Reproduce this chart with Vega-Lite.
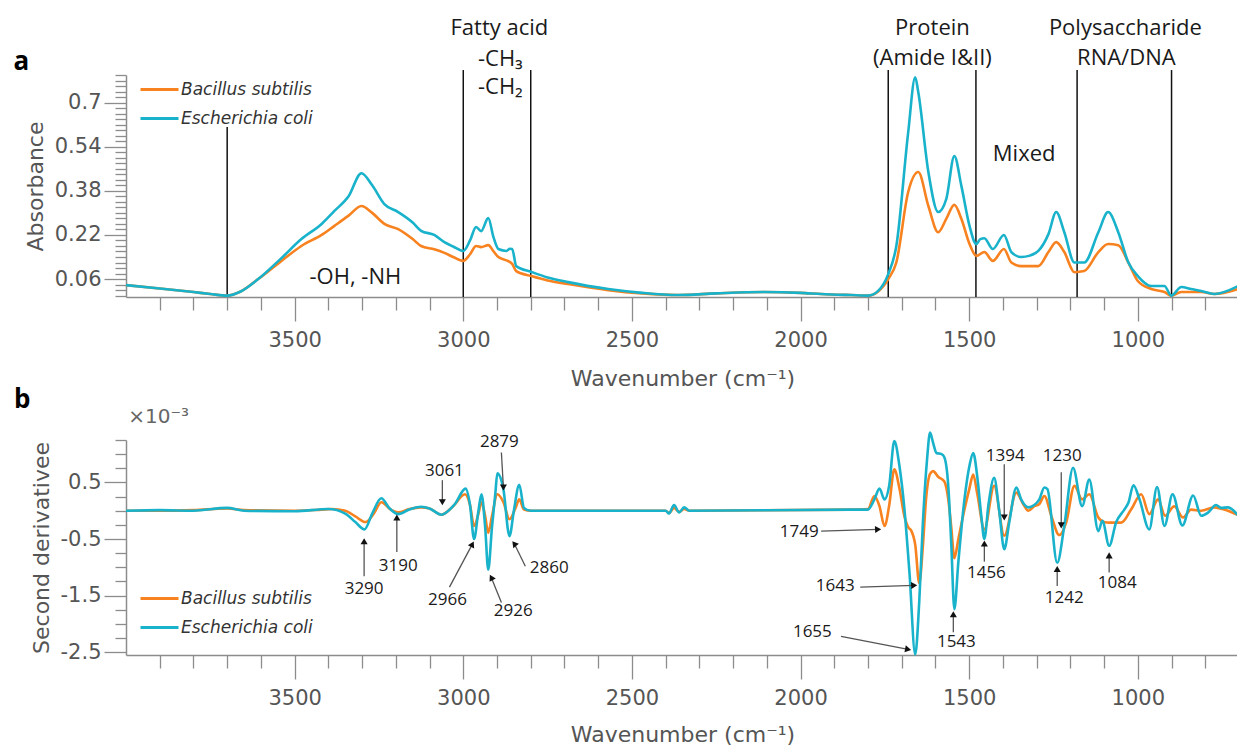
{
  "$schema": "https://vega.github.io/schema/vega-lite/v6.json",
  "background": "white",
  "padding": {"left": 13, "top": 16, "right": 0, "bottom": 0},
  "spacing": 143,
  "bounds": "flush",
  "resolve": {"scale": {"color": "independent"}, "legend": {"color": "independent"}},
  "config": {
    "view": {"stroke": null},
    "axis": {"grid": false, "domainColor": "#8c8c8c", "domainWidth": 1.5, "tickColor": "#8c8c8c", "tickWidth": 1.3, "labelFont": "DejaVu Sans", "labelFontSize": 21, "labelColor": "#555555", "titleFont": "DejaVu Sans", "titleFontSize": 22, "titleFontWeight": "normal", "titleColor": "#555555", "labelOverlap": false, "labelFlush": false, "labelBound": false}
  },
  "datasets": {
    "lines_a": [
      {"x": 3700, "y": -0.005, "y2": 0.611},
      {"x": 3000, "y": -0.005, "y2": 0.818},
      {"x": 2800, "y": -0.005, "y2": 0.818},
      {"x": 1740, "y": -0.005, "y2": 0.818},
      {"x": 1480, "y": -0.005, "y2": 0.818},
      {"x": 1180, "y": -0.005, "y2": 0.818},
      {"x": 900, "y": -0.005, "y2": 0.818}
    ],
    "ann_a": [
      {"t": "Fatty acid", "x": 2893, "y": 0.972},
      {"t": "-CH₃", "x": 2890, "y": 0.857},
      {"t": "-CH₂", "x": 2890, "y": 0.756},
      {"t": "Protein", "x": 1609, "y": 0.972},
      {"t": "(Amide I&II)", "x": 1609, "y": 0.86},
      {"t": "Polysaccharide", "x": 1037, "y": 0.972},
      {"t": "RNA/DNA", "x": 1034, "y": 0.86},
      {"t": "Mixed", "x": 1337, "y": 0.513},
      {"t": "-OH, -NH", "x": 3320, "y": 0.067}
    ],
    "spec_a": [
      {"s": "Bacillus subtilis", "x": 4000, "y": 0.038},
      {"s": "Bacillus subtilis", "x": 3900, "y": 0.026},
      {"s": "Bacillus subtilis", "x": 3800, "y": 0.013},
      {"s": "Bacillus subtilis", "x": 3750, "y": 0.006},
      {"s": "Bacillus subtilis", "x": 3700, "y": 0.0},
      {"s": "Bacillus subtilis", "x": 3660, "y": 0.015},
      {"s": "Bacillus subtilis", "x": 3608, "y": 0.06},
      {"s": "Bacillus subtilis", "x": 3540, "y": 0.125},
      {"s": "Bacillus subtilis", "x": 3480, "y": 0.18},
      {"s": "Bacillus subtilis", "x": 3420, "y": 0.22},
      {"s": "Bacillus subtilis", "x": 3382, "y": 0.253},
      {"s": "Bacillus subtilis", "x": 3340, "y": 0.29},
      {"s": "Bacillus subtilis", "x": 3302, "y": 0.325},
      {"s": "Bacillus subtilis", "x": 3270, "y": 0.3},
      {"s": "Bacillus subtilis", "x": 3234, "y": 0.26},
      {"s": "Bacillus subtilis", "x": 3193, "y": 0.241},
      {"s": "Bacillus subtilis", "x": 3150, "y": 0.205},
      {"s": "Bacillus subtilis", "x": 3125, "y": 0.18},
      {"s": "Bacillus subtilis", "x": 3086, "y": 0.168},
      {"s": "Bacillus subtilis", "x": 3056, "y": 0.155},
      {"s": "Bacillus subtilis", "x": 3030, "y": 0.14},
      {"s": "Bacillus subtilis", "x": 3000, "y": 0.126},
      {"s": "Bacillus subtilis", "x": 2980, "y": 0.15},
      {"s": "Bacillus subtilis", "x": 2962, "y": 0.18},
      {"s": "Bacillus subtilis", "x": 2947, "y": 0.176},
      {"s": "Bacillus subtilis", "x": 2926, "y": 0.183},
      {"s": "Bacillus subtilis", "x": 2910, "y": 0.16},
      {"s": "Bacillus subtilis", "x": 2896, "y": 0.14},
      {"s": "Bacillus subtilis", "x": 2872, "y": 0.128},
      {"s": "Bacillus subtilis", "x": 2855, "y": 0.115},
      {"s": "Bacillus subtilis", "x": 2843, "y": 0.089},
      {"s": "Bacillus subtilis", "x": 2798, "y": 0.071},
      {"s": "Bacillus subtilis", "x": 2750, "y": 0.055},
      {"s": "Bacillus subtilis", "x": 2689, "y": 0.042},
      {"s": "Bacillus subtilis", "x": 2570, "y": 0.02},
      {"s": "Bacillus subtilis", "x": 2470, "y": 0.008},
      {"s": "Bacillus subtilis", "x": 2363, "y": 0.002},
      {"s": "Bacillus subtilis", "x": 2250, "y": 0.008},
      {"s": "Bacillus subtilis", "x": 2108, "y": 0.013},
      {"s": "Bacillus subtilis", "x": 2000, "y": 0.01},
      {"s": "Bacillus subtilis", "x": 1939, "y": 0.006},
      {"s": "Bacillus subtilis", "x": 1850, "y": 0.002},
      {"s": "Bacillus subtilis", "x": 1799, "y": 0.0},
      {"s": "Bacillus subtilis", "x": 1770, "y": 0.015},
      {"s": "Bacillus subtilis", "x": 1740, "y": 0.06},
      {"s": "Bacillus subtilis", "x": 1716, "y": 0.12},
      {"s": "Bacillus subtilis", "x": 1681, "y": 0.375},
      {"s": "Bacillus subtilis", "x": 1651, "y": 0.448},
      {"s": "Bacillus subtilis", "x": 1621, "y": 0.325},
      {"s": "Bacillus subtilis", "x": 1592, "y": 0.23},
      {"s": "Bacillus subtilis", "x": 1568, "y": 0.278},
      {"s": "Bacillus subtilis", "x": 1544, "y": 0.329},
      {"s": "Bacillus subtilis", "x": 1523, "y": 0.278},
      {"s": "Bacillus subtilis", "x": 1499, "y": 0.187},
      {"s": "Bacillus subtilis", "x": 1479, "y": 0.144},
      {"s": "Bacillus subtilis", "x": 1455, "y": 0.158},
      {"s": "Bacillus subtilis", "x": 1430, "y": 0.126},
      {"s": "Bacillus subtilis", "x": 1397, "y": 0.169},
      {"s": "Bacillus subtilis", "x": 1375, "y": 0.12},
      {"s": "Bacillus subtilis", "x": 1346, "y": 0.107},
      {"s": "Bacillus subtilis", "x": 1295, "y": 0.107},
      {"s": "Bacillus subtilis", "x": 1265, "y": 0.158},
      {"s": "Bacillus subtilis", "x": 1242, "y": 0.194},
      {"s": "Bacillus subtilis", "x": 1218, "y": 0.158},
      {"s": "Bacillus subtilis", "x": 1188, "y": 0.085},
      {"s": "Bacillus subtilis", "x": 1159, "y": 0.089},
      {"s": "Bacillus subtilis", "x": 1117, "y": 0.158},
      {"s": "Bacillus subtilis", "x": 1088, "y": 0.187},
      {"s": "Bacillus subtilis", "x": 1058, "y": 0.183},
      {"s": "Bacillus subtilis", "x": 1028, "y": 0.12},
      {"s": "Bacillus subtilis", "x": 1000, "y": 0.053},
      {"s": "Bacillus subtilis", "x": 960, "y": 0.024},
      {"s": "Bacillus subtilis", "x": 921, "y": 0.013},
      {"s": "Bacillus subtilis", "x": 901, "y": 0.0},
      {"s": "Bacillus subtilis", "x": 871, "y": 0.013},
      {"s": "Bacillus subtilis", "x": 842, "y": 0.013},
      {"s": "Bacillus subtilis", "x": 812, "y": 0.013},
      {"s": "Bacillus subtilis", "x": 773, "y": 0.006},
      {"s": "Bacillus subtilis", "x": 702, "y": 0.024},
      {"s": "Escherichia coli", "x": 4000, "y": 0.038},
      {"s": "Escherichia coli", "x": 3900, "y": 0.026},
      {"s": "Escherichia coli", "x": 3800, "y": 0.013},
      {"s": "Escherichia coli", "x": 3750, "y": 0.006},
      {"s": "Escherichia coli", "x": 3700, "y": 0.0},
      {"s": "Escherichia coli", "x": 3660, "y": 0.015},
      {"s": "Escherichia coli", "x": 3608, "y": 0.06},
      {"s": "Escherichia coli", "x": 3540, "y": 0.135},
      {"s": "Escherichia coli", "x": 3480, "y": 0.205},
      {"s": "Escherichia coli", "x": 3420, "y": 0.26},
      {"s": "Escherichia coli", "x": 3382, "y": 0.307},
      {"s": "Escherichia coli", "x": 3340, "y": 0.36},
      {"s": "Escherichia coli", "x": 3302, "y": 0.444},
      {"s": "Escherichia coli", "x": 3270, "y": 0.4},
      {"s": "Escherichia coli", "x": 3234, "y": 0.332},
      {"s": "Escherichia coli", "x": 3193, "y": 0.303},
      {"s": "Escherichia coli", "x": 3150, "y": 0.265},
      {"s": "Escherichia coli", "x": 3125, "y": 0.235},
      {"s": "Escherichia coli", "x": 3086, "y": 0.22},
      {"s": "Escherichia coli", "x": 3056, "y": 0.194},
      {"s": "Escherichia coli", "x": 3030, "y": 0.178},
      {"s": "Escherichia coli", "x": 3000, "y": 0.162},
      {"s": "Escherichia coli", "x": 2980, "y": 0.2},
      {"s": "Escherichia coli", "x": 2962, "y": 0.249},
      {"s": "Escherichia coli", "x": 2947, "y": 0.234},
      {"s": "Escherichia coli", "x": 2926, "y": 0.281},
      {"s": "Escherichia coli", "x": 2910, "y": 0.21},
      {"s": "Escherichia coli", "x": 2896, "y": 0.169},
      {"s": "Escherichia coli", "x": 2872, "y": 0.162},
      {"s": "Escherichia coli", "x": 2862, "y": 0.17},
      {"s": "Escherichia coli", "x": 2855, "y": 0.169},
      {"s": "Escherichia coli", "x": 2843, "y": 0.107},
      {"s": "Escherichia coli", "x": 2798, "y": 0.086},
      {"s": "Escherichia coli", "x": 2750, "y": 0.066},
      {"s": "Escherichia coli", "x": 2689, "y": 0.049},
      {"s": "Escherichia coli", "x": 2570, "y": 0.024},
      {"s": "Escherichia coli", "x": 2470, "y": 0.01},
      {"s": "Escherichia coli", "x": 2363, "y": 0.002},
      {"s": "Escherichia coli", "x": 2250, "y": 0.008},
      {"s": "Escherichia coli", "x": 2108, "y": 0.013},
      {"s": "Escherichia coli", "x": 2000, "y": 0.01},
      {"s": "Escherichia coli", "x": 1939, "y": 0.006},
      {"s": "Escherichia coli", "x": 1850, "y": 0.002},
      {"s": "Escherichia coli", "x": 1799, "y": 0.0},
      {"s": "Escherichia coli", "x": 1770, "y": 0.017},
      {"s": "Escherichia coli", "x": 1740, "y": 0.078},
      {"s": "Escherichia coli", "x": 1716, "y": 0.18},
      {"s": "Escherichia coli", "x": 1681, "y": 0.59},
      {"s": "Escherichia coli", "x": 1660, "y": 0.792},
      {"s": "Escherichia coli", "x": 1651, "y": 0.738},
      {"s": "Escherichia coli", "x": 1621, "y": 0.448},
      {"s": "Escherichia coli", "x": 1592, "y": 0.303},
      {"s": "Escherichia coli", "x": 1568, "y": 0.35},
      {"s": "Escherichia coli", "x": 1544, "y": 0.506},
      {"s": "Escherichia coli", "x": 1523, "y": 0.397},
      {"s": "Escherichia coli", "x": 1499, "y": 0.253},
      {"s": "Escherichia coli", "x": 1479, "y": 0.187},
      {"s": "Escherichia coli", "x": 1467, "y": 0.205},
      {"s": "Escherichia coli", "x": 1455, "y": 0.208},
      {"s": "Escherichia coli", "x": 1430, "y": 0.169},
      {"s": "Escherichia coli", "x": 1397, "y": 0.22},
      {"s": "Escherichia coli", "x": 1375, "y": 0.158},
      {"s": "Escherichia coli", "x": 1346, "y": 0.14},
      {"s": "Escherichia coli", "x": 1320, "y": 0.145},
      {"s": "Escherichia coli", "x": 1295, "y": 0.162},
      {"s": "Escherichia coli", "x": 1265, "y": 0.223},
      {"s": "Escherichia coli", "x": 1242, "y": 0.303},
      {"s": "Escherichia coli", "x": 1218, "y": 0.23},
      {"s": "Escherichia coli", "x": 1188, "y": 0.12},
      {"s": "Escherichia coli", "x": 1159, "y": 0.12},
      {"s": "Escherichia coli", "x": 1117, "y": 0.23},
      {"s": "Escherichia coli", "x": 1088, "y": 0.303},
      {"s": "Escherichia coli", "x": 1058, "y": 0.23},
      {"s": "Escherichia coli", "x": 1028, "y": 0.12},
      {"s": "Escherichia coli", "x": 1000, "y": 0.071},
      {"s": "Escherichia coli", "x": 960, "y": 0.035},
      {"s": "Escherichia coli", "x": 921, "y": 0.035},
      {"s": "Escherichia coli", "x": 901, "y": 0.0},
      {"s": "Escherichia coli", "x": 871, "y": 0.031},
      {"s": "Escherichia coli", "x": 842, "y": 0.024},
      {"s": "Escherichia coli", "x": 812, "y": 0.017},
      {"s": "Escherichia coli", "x": 773, "y": 0.006},
      {"s": "Escherichia coli", "x": 702, "y": 0.035}
    ],
    "spec_b": [
      {"s": "Bacillus subtilis", "x": 4000, "y": 0},
      {"s": "Bacillus subtilis", "x": 3900, "y": 0},
      {"s": "Bacillus subtilis", "x": 3800, "y": 0.01},
      {"s": "Bacillus subtilis", "x": 3700, "y": 0.04},
      {"s": "Bacillus subtilis", "x": 3650, "y": 0.01},
      {"s": "Bacillus subtilis", "x": 3500, "y": 0},
      {"s": "Bacillus subtilis", "x": 3420, "y": 0.02},
      {"s": "Bacillus subtilis", "x": 3390, "y": 0.03},
      {"s": "Bacillus subtilis", "x": 3350, "y": 0},
      {"s": "Bacillus subtilis", "x": 3320, "y": -0.1},
      {"s": "Bacillus subtilis", "x": 3290, "y": -0.2},
      {"s": "Bacillus subtilis", "x": 3265, "y": -0.05},
      {"s": "Bacillus subtilis", "x": 3243, "y": 0.15},
      {"s": "Bacillus subtilis", "x": 3215, "y": 0.02},
      {"s": "Bacillus subtilis", "x": 3193, "y": -0.03},
      {"s": "Bacillus subtilis", "x": 3160, "y": 0.03},
      {"s": "Bacillus subtilis", "x": 3125, "y": 0.06},
      {"s": "Bacillus subtilis", "x": 3100, "y": 0.04},
      {"s": "Bacillus subtilis", "x": 3065, "y": -0.07},
      {"s": "Bacillus subtilis", "x": 3030, "y": 0.08},
      {"s": "Bacillus subtilis", "x": 2995, "y": 0.29},
      {"s": "Bacillus subtilis", "x": 2980, "y": 0.1},
      {"s": "Bacillus subtilis", "x": 2968, "y": -0.27},
      {"s": "Bacillus subtilis", "x": 2955, "y": -0.05},
      {"s": "Bacillus subtilis", "x": 2946, "y": 0.15},
      {"s": "Bacillus subtilis", "x": 2935, "y": -0.1},
      {"s": "Bacillus subtilis", "x": 2926, "y": -0.39},
      {"s": "Bacillus subtilis", "x": 2915, "y": -0.1},
      {"s": "Bacillus subtilis", "x": 2899, "y": 0.29},
      {"s": "Bacillus subtilis", "x": 2881, "y": 0.15},
      {"s": "Bacillus subtilis", "x": 2863, "y": -0.15},
      {"s": "Bacillus subtilis", "x": 2845, "y": 0.05},
      {"s": "Bacillus subtilis", "x": 2834, "y": 0.2},
      {"s": "Bacillus subtilis", "x": 2820, "y": 0.02},
      {"s": "Bacillus subtilis", "x": 2800, "y": 0},
      {"s": "Bacillus subtilis", "x": 2400, "y": 0},
      {"s": "Bacillus subtilis", "x": 2390, "y": -0.04},
      {"s": "Bacillus subtilis", "x": 2375, "y": 0.05},
      {"s": "Bacillus subtilis", "x": 2360, "y": -0.02},
      {"s": "Bacillus subtilis", "x": 2345, "y": 0.03},
      {"s": "Bacillus subtilis", "x": 2330, "y": 0},
      {"s": "Bacillus subtilis", "x": 1850, "y": 0.02},
      {"s": "Bacillus subtilis", "x": 1800, "y": 0.03},
      {"s": "Bacillus subtilis", "x": 1781, "y": 0.26},
      {"s": "Bacillus subtilis", "x": 1766, "y": 0.08},
      {"s": "Bacillus subtilis", "x": 1751, "y": -0.27},
      {"s": "Bacillus subtilis", "x": 1737, "y": 0.1},
      {"s": "Bacillus subtilis", "x": 1722, "y": 0.73},
      {"s": "Bacillus subtilis", "x": 1707, "y": 0.4},
      {"s": "Bacillus subtilis", "x": 1692, "y": -0.1},
      {"s": "Bacillus subtilis", "x": 1680, "y": -0.3},
      {"s": "Bacillus subtilis", "x": 1672, "y": -0.35},
      {"s": "Bacillus subtilis", "x": 1660, "y": -0.6},
      {"s": "Bacillus subtilis", "x": 1648, "y": -1.28},
      {"s": "Bacillus subtilis", "x": 1637, "y": -0.6},
      {"s": "Bacillus subtilis", "x": 1628, "y": 0.2},
      {"s": "Bacillus subtilis", "x": 1616, "y": 0.65},
      {"s": "Bacillus subtilis", "x": 1607, "y": 0.7},
      {"s": "Bacillus subtilis", "x": 1592, "y": 0.6},
      {"s": "Bacillus subtilis", "x": 1574, "y": 0.52},
      {"s": "Bacillus subtilis", "x": 1562, "y": 0.2},
      {"s": "Bacillus subtilis", "x": 1553, "y": -0.3},
      {"s": "Bacillus subtilis", "x": 1544, "y": -0.84},
      {"s": "Bacillus subtilis", "x": 1532, "y": -0.5},
      {"s": "Bacillus subtilis", "x": 1514, "y": 0.02},
      {"s": "Bacillus subtilis", "x": 1499, "y": 0.4},
      {"s": "Bacillus subtilis", "x": 1488, "y": 0.64},
      {"s": "Bacillus subtilis", "x": 1476, "y": 0.3},
      {"s": "Bacillus subtilis", "x": 1455, "y": -0.33},
      {"s": "Bacillus subtilis", "x": 1426, "y": 0.44},
      {"s": "Bacillus subtilis", "x": 1396, "y": -0.44},
      {"s": "Bacillus subtilis", "x": 1360, "y": 0.32},
      {"s": "Bacillus subtilis", "x": 1340, "y": 0.12},
      {"s": "Bacillus subtilis", "x": 1325, "y": 0},
      {"s": "Bacillus subtilis", "x": 1307, "y": 0.08},
      {"s": "Bacillus subtilis", "x": 1292, "y": 0.12},
      {"s": "Bacillus subtilis", "x": 1277, "y": 0.26},
      {"s": "Bacillus subtilis", "x": 1256, "y": -0.1},
      {"s": "Bacillus subtilis", "x": 1233, "y": -0.43},
      {"s": "Bacillus subtilis", "x": 1212, "y": -0.2},
      {"s": "Bacillus subtilis", "x": 1188, "y": 0.44},
      {"s": "Bacillus subtilis", "x": 1165, "y": 0.2},
      {"s": "Bacillus subtilis", "x": 1144, "y": 0.29},
      {"s": "Bacillus subtilis", "x": 1117, "y": -0.12},
      {"s": "Bacillus subtilis", "x": 1100, "y": -0.2},
      {"s": "Bacillus subtilis", "x": 1085, "y": -0.21},
      {"s": "Bacillus subtilis", "x": 1065, "y": -0.21},
      {"s": "Bacillus subtilis", "x": 1049, "y": -0.21},
      {"s": "Bacillus subtilis", "x": 1020, "y": 0.02},
      {"s": "Bacillus subtilis", "x": 990, "y": 0.29},
      {"s": "Bacillus subtilis", "x": 966, "y": -0.06},
      {"s": "Bacillus subtilis", "x": 940, "y": 0.2},
      {"s": "Bacillus subtilis", "x": 919, "y": -0.09},
      {"s": "Bacillus subtilis", "x": 892, "y": 0.08},
      {"s": "Bacillus subtilis", "x": 866, "y": -0.12},
      {"s": "Bacillus subtilis", "x": 842, "y": 0.02},
      {"s": "Bacillus subtilis", "x": 812, "y": 0},
      {"s": "Bacillus subtilis", "x": 773, "y": 0.06},
      {"s": "Bacillus subtilis", "x": 744, "y": 0.02},
      {"s": "Bacillus subtilis", "x": 702, "y": -0.08},
      {"s": "Escherichia coli", "x": 4000, "y": 0},
      {"s": "Escherichia coli", "x": 3900, "y": 0.01},
      {"s": "Escherichia coli", "x": 3800, "y": 0},
      {"s": "Escherichia coli", "x": 3700, "y": 0.05},
      {"s": "Escherichia coli", "x": 3650, "y": 0},
      {"s": "Escherichia coli", "x": 3500, "y": -0.01},
      {"s": "Escherichia coli", "x": 3400, "y": 0.03},
      {"s": "Escherichia coli", "x": 3350, "y": -0.05},
      {"s": "Escherichia coli", "x": 3320, "y": -0.2},
      {"s": "Escherichia coli", "x": 3293, "y": -0.33},
      {"s": "Escherichia coli", "x": 3270, "y": -0.05},
      {"s": "Escherichia coli", "x": 3243, "y": 0.22},
      {"s": "Escherichia coli", "x": 3220, "y": 0.05},
      {"s": "Escherichia coli", "x": 3193, "y": -0.06},
      {"s": "Escherichia coli", "x": 3160, "y": 0.02},
      {"s": "Escherichia coli", "x": 3125, "y": 0.07},
      {"s": "Escherichia coli", "x": 3100, "y": 0.04},
      {"s": "Escherichia coli", "x": 3065, "y": -0.07},
      {"s": "Escherichia coli", "x": 3026, "y": 0.11},
      {"s": "Escherichia coli", "x": 2993, "y": 0.39},
      {"s": "Escherichia coli", "x": 2980, "y": 0.1},
      {"s": "Escherichia coli", "x": 2968, "y": -0.5},
      {"s": "Escherichia coli", "x": 2955, "y": 0},
      {"s": "Escherichia coli", "x": 2946, "y": 0.29},
      {"s": "Escherichia coli", "x": 2935, "y": -0.3},
      {"s": "Escherichia coli", "x": 2926, "y": -1.04},
      {"s": "Escherichia coli", "x": 2915, "y": -0.3},
      {"s": "Escherichia coli", "x": 2905, "y": 0.3},
      {"s": "Escherichia coli", "x": 2899, "y": 0.66},
      {"s": "Escherichia coli", "x": 2881, "y": 0.38},
      {"s": "Escherichia coli", "x": 2863, "y": -0.45},
      {"s": "Escherichia coli", "x": 2850, "y": 0},
      {"s": "Escherichia coli", "x": 2834, "y": 0.46},
      {"s": "Escherichia coli", "x": 2820, "y": 0.05},
      {"s": "Escherichia coli", "x": 2800, "y": 0},
      {"s": "Escherichia coli", "x": 2400, "y": 0},
      {"s": "Escherichia coli", "x": 2390, "y": -0.05},
      {"s": "Escherichia coli", "x": 2375, "y": 0.1},
      {"s": "Escherichia coli", "x": 2360, "y": -0.03},
      {"s": "Escherichia coli", "x": 2345, "y": 0.06},
      {"s": "Escherichia coli", "x": 2330, "y": 0},
      {"s": "Escherichia coli", "x": 1850, "y": 0.02},
      {"s": "Escherichia coli", "x": 1800, "y": 0.02},
      {"s": "Escherichia coli", "x": 1781, "y": 0.2},
      {"s": "Escherichia coli", "x": 1766, "y": 0.39},
      {"s": "Escherichia coli", "x": 1751, "y": 0.2},
      {"s": "Escherichia coli", "x": 1737, "y": 0.45},
      {"s": "Escherichia coli", "x": 1722, "y": 1.23},
      {"s": "Escherichia coli", "x": 1707, "y": 0.8},
      {"s": "Escherichia coli", "x": 1692, "y": 0.03},
      {"s": "Escherichia coli", "x": 1677, "y": -1.1},
      {"s": "Escherichia coli", "x": 1660, "y": -2.54},
      {"s": "Escherichia coli", "x": 1648, "y": -1.6},
      {"s": "Escherichia coli", "x": 1637, "y": -0.18},
      {"s": "Escherichia coli", "x": 1625, "y": 0.9},
      {"s": "Escherichia coli", "x": 1616, "y": 1.38},
      {"s": "Escherichia coli", "x": 1607, "y": 1.2},
      {"s": "Escherichia coli", "x": 1597, "y": 1.02},
      {"s": "Escherichia coli", "x": 1582, "y": 1.0},
      {"s": "Escherichia coli", "x": 1574, "y": 0.95},
      {"s": "Escherichia coli", "x": 1562, "y": 0.44},
      {"s": "Escherichia coli", "x": 1553, "y": -0.6},
      {"s": "Escherichia coli", "x": 1544, "y": -1.74},
      {"s": "Escherichia coli", "x": 1532, "y": -0.9},
      {"s": "Escherichia coli", "x": 1514, "y": 0.2},
      {"s": "Escherichia coli", "x": 1499, "y": 0.8},
      {"s": "Escherichia coli", "x": 1488, "y": 1.02},
      {"s": "Escherichia coli", "x": 1476, "y": 0.6},
      {"s": "Escherichia coli", "x": 1464, "y": -0.1},
      {"s": "Escherichia coli", "x": 1455, "y": -0.5},
      {"s": "Escherichia coli", "x": 1443, "y": 0.1},
      {"s": "Escherichia coli", "x": 1426, "y": 0.58},
      {"s": "Escherichia coli", "x": 1411, "y": 0},
      {"s": "Escherichia coli", "x": 1396, "y": -0.68},
      {"s": "Escherichia coli", "x": 1381, "y": -0.2},
      {"s": "Escherichia coli", "x": 1360, "y": 0.41},
      {"s": "Escherichia coli", "x": 1346, "y": 0.2},
      {"s": "Escherichia coli", "x": 1325, "y": 0.06},
      {"s": "Escherichia coli", "x": 1307, "y": 0.1},
      {"s": "Escherichia coli", "x": 1292, "y": 0.2},
      {"s": "Escherichia coli", "x": 1277, "y": 0.41},
      {"s": "Escherichia coli", "x": 1268, "y": 0.38},
      {"s": "Escherichia coli", "x": 1239, "y": -0.92},
      {"s": "Escherichia coli", "x": 1218, "y": -0.27},
      {"s": "Escherichia coli", "x": 1192, "y": 0.76},
      {"s": "Escherichia coli", "x": 1165, "y": 0.08},
      {"s": "Escherichia coli", "x": 1144, "y": 0.55},
      {"s": "Escherichia coli", "x": 1117, "y": -0.36},
      {"s": "Escherichia coli", "x": 1105, "y": -0.18},
      {"s": "Escherichia coli", "x": 1085, "y": -0.62},
      {"s": "Escherichia coli", "x": 1064, "y": -0.2},
      {"s": "Escherichia coli", "x": 1040, "y": 0.02},
      {"s": "Escherichia coli", "x": 1028, "y": 0.14},
      {"s": "Escherichia coli", "x": 1013, "y": 0.45},
      {"s": "Escherichia coli", "x": 995, "y": 0.2},
      {"s": "Escherichia coli", "x": 966, "y": -0.33},
      {"s": "Escherichia coli", "x": 943, "y": 0.42},
      {"s": "Escherichia coli", "x": 921, "y": -0.27},
      {"s": "Escherichia coli", "x": 897, "y": 0.29},
      {"s": "Escherichia coli", "x": 868, "y": -0.26},
      {"s": "Escherichia coli", "x": 836, "y": 0.27},
      {"s": "Escherichia coli", "x": 812, "y": -0.09},
      {"s": "Escherichia coli", "x": 791, "y": -0.03},
      {"s": "Escherichia coli", "x": 768, "y": 0.1},
      {"s": "Escherichia coli", "x": 753, "y": 0.05},
      {"s": "Escherichia coli", "x": 733, "y": 0.06},
      {"s": "Escherichia coli", "x": 703, "y": -0.08}
    ],
    "arrows": [
      {"t": "3290", "tx": 3294, "ty": -1.39, "x": 3294, "y": -1.16, "x2": 3294, "y2": -0.54},
      {"t": "3190", "tx": 3193, "ty": -0.98, "x": 3197, "y": -0.73, "x2": 3197, "y2": -0.12},
      {"t": "3061", "tx": 3056, "ty": 0.71, "x": 3062, "y": 0.54, "x2": 3062, "y2": 0.15},
      {"t": "2879", "tx": 2893, "ty": 1.22, "x": 2887, "y": 1.03, "x2": 2881, "y2": 0.41},
      {"t": "2966", "tx": 3047, "ty": -1.58, "x": 3041, "y": -1.35, "x2": 2973, "y2": -0.59},
      {"t": "2926", "tx": 2852, "ty": -1.77, "x": 2887, "y": -1.62, "x2": 2917, "y2": -1.18},
      {"t": "2860", "tx": 2745, "ty": -1.02, "x": 2816, "y": -0.98, "x2": 2849, "y2": -0.58},
      {"t": "1749", "tx": 2004, "ty": -0.38, "x": 1939, "y": -0.36, "x2": 1770, "y2": -0.33},
      {"t": "1643", "tx": 1897, "ty": -1.33, "x": 1823, "y": -1.35, "x2": 1663, "y2": -1.32},
      {"t": "1655", "tx": 1965, "ty": -2.15, "x": 1880, "y": -2.22, "x2": 1681, "y2": -2.45},
      {"t": "1543", "tx": 1538, "ty": -2.32, "x": 1547, "y": -2.15, "x2": 1547, "y2": -1.83},
      {"t": "1456", "tx": 1449, "ty": -1.1, "x": 1455, "y": -0.9, "x2": 1455, "y2": -0.58},
      {"t": "1394", "tx": 1393, "ty": 0.96, "x": 1396, "y": 0.82, "x2": 1396, "y2": -0.12},
      {"t": "1230", "tx": 1224, "ty": 0.96, "x": 1227, "y": 0.68, "x2": 1227, "y2": -0.26},
      {"t": "1242", "tx": 1218, "ty": -1.55, "x": 1239, "y": -1.33, "x2": 1239, "y2": -1.03},
      {"t": "1084", "tx": 1061, "ty": -1.28, "x": 1085, "y": -1.09, "x2": 1085, "y2": -0.79}
    ]
  },
  "vconcat": [
    {
      "width": 1113,
      "height": 222,
      "encoding": {
        "x": {"field": "x", "type": "quantitative", "scale": {"domain": [700, 4000], "reverse": true, "nice": false, "zero": false},
          "axis": {"title": "Wavenumber (cm⁻¹)", "values": [800, 900, 1000, 1100, 1200, 1300, 1400, 1500, 1600, 1700, 1800, 1900, 2000, 2100, 2200, 2300, 2400, 2500, 2600, 2700, 2800, 2900, 3000, 3100, 3200, 3300, 3400, 3500, 3600, 3700, 3800, 3900],
            "tickSize": {"condition": {"test": "datum.value % 500 === 0", "value": 24}, "value": 13},
            "labelExpr": "datum.value % 500 === 0 ? '' + datum.value : ''", "labelPadding": 8, "titlePadding": 18}},
        "y": {"field": "y", "type": "quantitative", "scale": {"domain": [-0.005, 0.8], "nice": false, "zero": false},
          "axis": {"title": "Absorbance", "values": [0, 0.02, 0.04, 0.06, 0.08, 0.1, 0.12, 0.14, 0.16, 0.18, 0.2, 0.22, 0.24, 0.26, 0.28, 0.3, 0.32, 0.34, 0.36, 0.38, 0.4, 0.42, 0.44, 0.46, 0.48, 0.5, 0.52, 0.54, 0.56, 0.58, 0.6, 0.62, 0.64, 0.66, 0.68, 0.7, 0.72, 0.74, 0.76, 0.78, 0.8],
            "tickSize": {"condition": {"test": "indexof([0.06, 0.22, 0.38, 0.54, 0.7], datum.value) >= 0", "value": 22}, "value": 11},
            "labelExpr": "indexof([0.06, 0.22, 0.38, 0.54, 0.7], datum.value) >= 0 ? '' + datum.value : ''", "labelPadding": 3, "titlePadding": 7}}
      },
      "layer": [
        {
          "data": {"name": "lines_a"},
          "mark": {"type": "rule", "color": "#111111", "strokeWidth": 1.5},
          "encoding": {"y2": {"field": "y2"}}
        },
        {
          "data": {"name": "spec_a"},
          "mark": {"type": "line", "strokeWidth": 2.6, "interpolate": "monotone"},
          "encoding": {
            "color": {"field": "s", "type": "nominal",
              "scale": {"domain": ["Bacillus subtilis", "Escherichia coli"], "range": ["#F7821F", "#19B2CB"]},
              "legend": {"orient": "none", "legendX": 13, "legendY": -6, "title": null, "symbolType": "stroke", "symbolSize": 1444, "symbolStrokeWidth": 3, "labelFont": "DejaVu Sans", "labelFontSize": 17, "labelFontStyle": "italic", "labelColor": "#333333", "padding": 0, "rowPadding": -12, "labelOffset": 1}}
          }
        },
        {
          "data": {"name": "ann_a"},
          "mark": {"type": "text", "font": "Open Sans", "fontSize": 22, "color": "#1a1a1a", "align": "center", "baseline": "middle"},
          "encoding": {"text": {"field": "t"}}
        },
        {
          "data": {"values": [{"t": "a", "x": 4310, "y": 0.846}]},
          "mark": {"type": "text", "font": "Open Sans", "fontSize": 26, "fontWeight": "bold", "color": "#000000", "align": "center", "baseline": "middle"},
          "encoding": {"text": {"field": "t"}}
        }
      ]
    },
    {
      "width": 1113,
      "height": 215,
      "encoding": {
        "x": {"field": "x", "type": "quantitative", "scale": {"domain": [700, 4000], "reverse": true, "nice": false, "zero": false},
          "axis": {"title": "Wavenumber (cm⁻¹)", "values": [800, 900, 1000, 1100, 1200, 1300, 1400, 1500, 1600, 1700, 1800, 1900, 2000, 2100, 2200, 2300, 2400, 2500, 2600, 2700, 2800, 2900, 3000, 3100, 3200, 3300, 3400, 3500, 3600, 3700, 3800, 3900],
            "tickSize": {"condition": {"test": "datum.value % 500 === 0", "value": 24}, "value": 13},
            "labelExpr": "datum.value % 500 === 0 ? '' + datum.value : ''", "labelPadding": 8, "titlePadding": 16}},
        "y": {"field": "y", "type": "quantitative", "scale": {"domain": [-2.55, 1.25], "nice": false, "zero": false},
          "axis": {"title": "Second derivativee", "values": [-2.5, -2.25, -2, -1.75, -1.5, -1.25, -1, -0.75, -0.5, -0.25, 0, 0.25, 0.5, 0.75, 1, 1.25],
            "tickSize": {"condition": {"test": "indexof([-2.5, -1.5, -0.5, 0.5], datum.value) >= 0", "value": 22}, "value": 11},
            "labelExpr": "indexof([-2.5, -1.5, -0.5, 0.5], datum.value) >= 0 ? '' + datum.value : ''", "labelPadding": 3, "titlePadding": 7}}
      },
      "layer": [
        {
          "data": {"name": "spec_b"},
          "mark": {"type": "line", "strokeWidth": 2.6, "interpolate": "monotone"},
          "encoding": {
            "color": {"field": "s", "type": "nominal",
              "scale": {"domain": ["Bacillus subtilis", "Escherichia coli"], "range": ["#F7821F", "#19B2CB"]},
              "legend": {"orient": "none", "legendX": 13, "legendY": 138, "title": null, "symbolType": "stroke", "symbolSize": 1444, "symbolStrokeWidth": 3, "labelFont": "DejaVu Sans", "labelFontSize": 17, "labelFontStyle": "italic", "labelColor": "#333333", "padding": 0, "rowPadding": -12, "labelOffset": 1}}
          }
        },
        {
          "data": {"name": "arrows"},
          "mark": {"type": "rule", "color": "#555555", "strokeWidth": 1.3},
          "encoding": {"x2": {"field": "x2"}, "y2": {"field": "y2"}}
        },
        {
          "data": {"name": "arrows"},
          "mark": {"type": "point", "shape": "triangle-up", "filled": true, "color": "#111111", "size": 50, "opacity": 1, "strokeWidth": 0},
          "encoding": {
            "x": {"field": "x2", "type": "quantitative", "scale": {"domain": [700, 4000], "reverse": true, "nice": false, "zero": false}},
            "y": {"field": "y2", "type": "quantitative", "scale": {"domain": [-2.55, 1.25], "nice": false, "zero": false}},
            "angle": {"condition": [
              {"test": "datum.t == '2966'", "value": 27},
              {"test": "datum.t == '2926'", "value": 332},
              {"test": "datum.t == '2860'", "value": 322},
              {"test": "datum.t == '1749' || datum.t == '1643'", "value": 87},
              {"test": "datum.t == '1655'", "value": 101},
              {"test": "indexof(['3061', '2879', '1394', '1230'], datum.t) >= 0", "value": 180}
            ], "value": 0}
          }
        },
        {
          "data": {"name": "arrows"},
          "mark": {"type": "text", "font": "Open Sans", "fontSize": 17, "color": "#1a1a1a", "align": "center", "baseline": "middle"},
          "encoding": {
            "x": {"field": "tx", "type": "quantitative", "scale": {"domain": [700, 4000], "reverse": true, "nice": false, "zero": false}},
            "y": {"field": "ty", "type": "quantitative", "scale": {"domain": [-2.55, 1.25], "nice": false, "zero": false}},
            "text": {"field": "t"}
          }
        },
        {
          "data": {"values": [{"t": "×10⁻³", "x": 3993, "y": 1.65}]},
          "mark": {"type": "text", "font": "DejaVu Sans", "fontSize": 20, "color": "#666666", "align": "left", "baseline": "middle"},
          "encoding": {"text": {"field": "t"}}
        },
        {
          "data": {"values": [{"t": "b", "x": 4308, "y": 1.964}]},
          "mark": {"type": "text", "font": "Open Sans", "fontSize": 26, "fontWeight": "bold", "color": "#000000", "align": "center", "baseline": "middle"},
          "encoding": {"text": {"field": "t"}}
        }
      ]
    }
  ]
}
